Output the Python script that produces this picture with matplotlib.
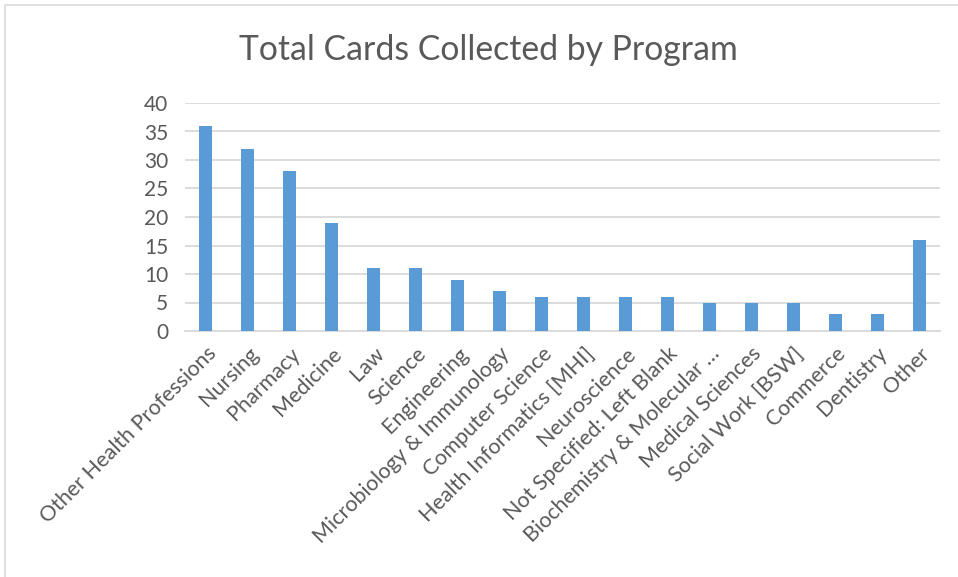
import matplotlib
matplotlib.use("Agg")
import matplotlib.pyplot as plt
from matplotlib.patches import Rectangle

programs = ["Other Health Professions", "Nursing", "Pharmacy", "Medicine", "Law",
            "Science", "Engineering", "Microbiology & Immunology", "Computer Science",
            "Health Informatics [MHI]", "Neuroscience", "Not Specified: Left Blank",
            "Biochemistry & Molecular …", "Medical Sciences", "Social Work [BSW]",
            "Commerce", "Dentistry", "Other"]
cards = [36, 32, 28, 19, 11, 11, 9, 7, 6, 6, 6, 6, 5, 5, 5, 3, 3, 16]
yticks = [0, 5, 10, 15, 20, 25, 30, 35, 40]

plt.rcParams['font.family'] = ['Lato', 'DejaVu Sans']
W, H = 958, 577
fig = plt.figure(figsize=(W/100, H/100), dpi=100)
ax = fig.add_axes([185/W, 1-331/H, (940-185)/W, (331-103)/H])

x = list(range(len(programs)))
ax.bar(x, cards, width=0.31, color="#5B9BD5", zorder=3)
ax.set_xlim(-0.5, len(programs)-0.5)
ax.set_ylim(0, 40)
ax.set_yticks(yticks)
ax.set_yticklabels([str(v) for v in yticks], fontsize=15, color="#595959")
ax.yaxis.grid(True, color="#D9D9D9", linewidth=1.3, zorder=0)
ax.set_xticks(x)
ax.set_xticklabels(programs, rotation=45, ha="right", rotation_mode="anchor",
                   fontsize=15.5, color="#595959")
ax.tick_params(axis="both", length=0)
ax.tick_params(axis="x", pad=9)
ax.tick_params(axis="y", pad=12)
for s in ["top", "right", "left"]:
    ax.spines[s].set_visible(False)
ax.spines["bottom"].set_color("#D9D9D9")
ax.spines["bottom"].set_linewidth(1.3)

fig.text(488/W, 1-50/H, "Total Cards Collected by Program", ha="center", va="center",
         fontsize=24.3, color="#595959")

fig.patches.append(Rectangle((5/W, -0.1), 1.2, 1.1 - 5/H, transform=fig.transFigure,
                             fill=False, edgecolor="#D9D9D9", linewidth=1.2))

fig.savefig("out.png", dpi=100)
